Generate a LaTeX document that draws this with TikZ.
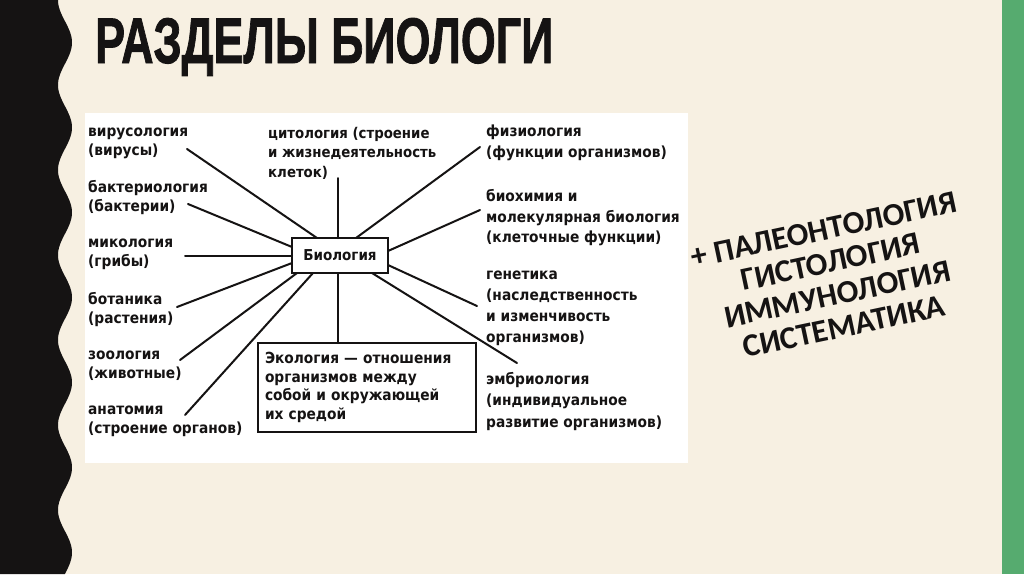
\documentclass[tikz,border=0pt]{standalone}
\usepackage{graphicx}
\usepackage{fontspec}
\usetikzlibrary{calc}
\setmainfont{DejaVu Sans}
\newfontfamily\diag{DejaVu Sans Condensed Bold}
\newfontfamily\titlef{Liberation Sans}[FakeBold=1.5]
\newfontfamily\rotf{Carlito}
\definecolor{bgc}{RGB}{247,240,226}
\definecolor{grn}{RGB}{86,171,111}
\definecolor{blk}{RGB}{21,19,19}
\begin{document}
\begin{tikzpicture}[x=1pt,y=-1pt,
  lbl/.style={anchor=west,align=left,inner sep=0pt,text=blk,font=\diag\fontsize{15.3}{19}\selectfont},
  rlbl/.style={lbl,font=\diag\fontsize{15.3}{20.5}\selectfont},
  conn/.style={line width=2pt,draw=blk,line cap=round},
  boxb/.style={draw=blk,line width=2.6pt,outer sep=0pt}]
\useasboundingbox (0,0) rectangle (1024,574);
\fill[bgc] (0,0) rectangle (1024,574);
\fill[grn] (1002,0) rectangle (1024,574);
\fill[blk] (0,0) -- plot[domain=0:574,samples=300,variable=\t] ({65-7*cos(4.23529*\t)},\t) -- (0,574) -- cycle;
% title
\node[anchor=base west,inner sep=0pt,text=blk] (title) at (95,63) {\resizebox{458pt}{45pt}{\titlef\bfseries РАЗДЕЛЫ БИОЛОГИ}};
% white panel
\fill[white] (85,113) rectangle (688,463);
% central box
\node[boxb,minimum width=96pt,minimum height=35pt,inner sep=0pt,text=blk,font=\diag\fontsize{15}{18}\selectfont] (bio) at (340,255.5) {Биология};
% ecology box
\node[boxb,anchor=north west,minimum width=218pt,minimum height=89pt,text width=204pt,inner xsep=7pt,inner ysep=0pt,align=left,text=blk,font=\diag\fontsize{15.3}{18.5}\selectfont] (eco) at (258,343) {Экология — отношения\\организмов между\\собой и окружающей\\их средой};
% left labels
\node[lbl] (vir) at (88,143) {вирусология\\(вирусы)};
\node[lbl] (bak) at (88,198) {бактериология\\(бактерии)};
\node[lbl] (myc) at (88,254) {микология\\(грибы)};
\node[lbl] (bot) at (88,310) {ботаника\\(растения)};
\node[lbl] (zoo) at (88,366) {зоология\\(животные)};
\node[lbl] (ana) at (88,421) {анатомия\\(строение органов)};
% top label
\node[lbl,font=\diag\fontsize{14.8}{19.5}\selectfont] (cyt) at (268,153) {цитология (строение\\и жизнедеятельность\\клеток)};
% right labels
\node[rlbl] (phy) at (486,143) {физиология\\(функции организмов)};
\node[rlbl] (bch) at (486,218) {биохимия и\\молекулярная биология\\(клеточные функции)};
\node[lbl,font=\diag\fontsize{15.3}{21}\selectfont] (gen) at (486,308.5) {генетика\\(наследственность\\и изменчивость\\организмов)};
\node[lbl,font=\diag\fontsize{15.3}{21.5}\selectfont] (emb) at (486,401.5) {эмбриология\\(индивидуальное\\развитие организмов)};
% connector free ends
\coordinate (virE) at (187,149);
\coordinate (bakE) at (188,204);
\coordinate (mycE) at (185,256);
\coordinate (botE) at (177,307);
\coordinate (zooE) at (180,360);
\coordinate (anaE) at (185,415);
\coordinate (cytE) at (338,178);
\coordinate (phyE) at (480,147);
\coordinate (bchE) at (480,210);
\coordinate (genE) at (477,306);
\coordinate (embE) at (517,363);
% connectors
\draw[conn] (virE) -- ($(bio.north west)+(25,0)$);
\draw[conn] (bakE) -- ($(bio.north west)+(0,9)$);
\draw[conn] (mycE) -- ($(bio.north west)+(0,18)$);
\draw[conn] (botE) -- ($(bio.north west)+(0,25)$);
\draw[conn] (zooE) -- ($(bio.south west)+(5,0)$);
\draw[conn] (anaE) -- ($(bio.south west)+(21,0)$);
\draw[conn] (cytE) -- ($(bio.north west)+(46,0)$);
\draw[conn] ($(bio.south west)+(46,0)$) -- ($(eco.north west)+(80,0)$);
\draw[conn] (phyE) -- ($(bio.north west)+(64,0)$);
\draw[conn] (bchE) -- ($(bio.north east)+(0,13)$);
\draw[conn] (genE) -- ($(bio.north east)+(0,27)$);
\draw[conn] (embE) -- ($(bio.south east)+(-16,0)$);
% rotated extra list
\node[rotate=12,align=center,inner sep=0pt,text=blk,font=\rotf\bfseries\fontsize{32}{33}\selectfont] (extra) at (834,278) {+ ПАЛЕОНТОЛОГИЯ\\ГИСТОЛОГИЯ\\ИММУНОЛОГИЯ\\СИСТЕМАТИКА};
\end{tikzpicture}
\end{document}
